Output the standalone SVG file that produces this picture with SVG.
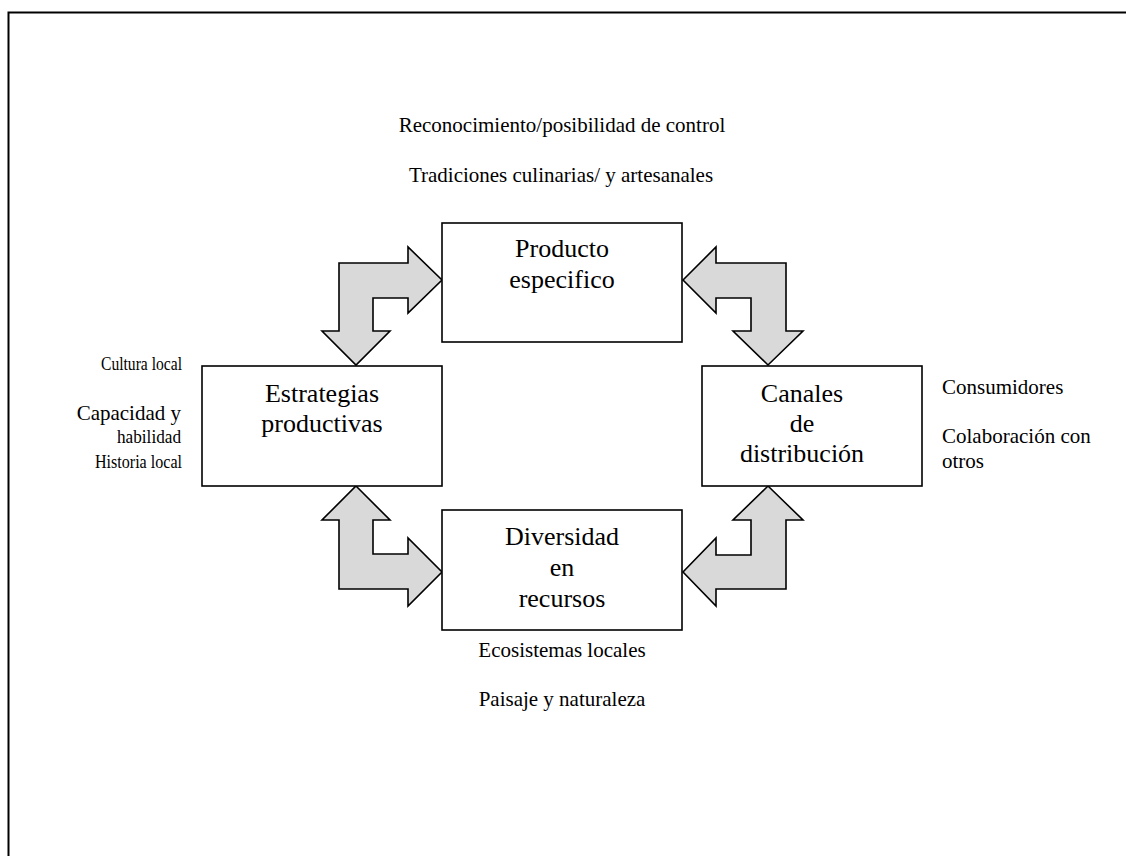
<svg xmlns="http://www.w3.org/2000/svg" width="1126" height="856" viewBox="0 0 1126 856">
<style>
.box{fill:#fff;stroke:#000;stroke-width:1.6}
.arr{fill:#d9d9d9;stroke:#000;stroke-width:1.6;stroke-linejoin:miter}
.big{font-family:"Liberation Serif","Times New Roman",serif;font-size:26px;fill:#000;text-anchor:middle}
.sm{font-family:"Liberation Serif","Times New Roman",serif;font-size:21px;fill:#000}
.s18{font-size:18px}
.mid{text-anchor:middle}
.end{text-anchor:end}
</style>
<rect width="1126" height="856" fill="#fff"/>
<path d="M8.5,856 V12.5 H1126" fill="none" stroke="#000" stroke-width="2"/>
<g id="connectors">
<polygon class="arr" points="339,263 408,263 408,247 442,280 408,313 408,298 373,298 373,331 390,331 356,365 322,331 339,331"/>
<polygon class="arr" points="683,280 716,247 716,263 786,263 786,331 803,331 768,365 733,331 751,331 751,298 716,298 716,313"/>
<polygon class="arr" points="356,486 390,520 373,520 373,554 408,554 408,538 442,572 408,606 408,589 339,589 339,520 322,520"/>
<polygon class="arr" points="768,486 803,520 786,520 786,589 716,589 716,606 683,572 716,538 716,555 751,555 751,520 733,520"/>
</g>
<g id="producto">
<rect class="box" x="442" y="223" width="240" height="119"/>
<text class="big" x="562" y="257">Producto</text>
<text class="big" x="562" y="288">especifico</text>
</g>
<g id="estrategias">
<rect class="box" x="202" y="366" width="240" height="120"/>
<text class="big" x="322" y="402">Estrategias</text>
<text class="big" x="322" y="432">productivas</text>
</g>
<g id="canales">
<rect class="box" x="702" y="366" width="220" height="120"/>
<text class="big" x="802" y="402">Canales</text>
<text class="big" x="802" y="432">de</text>
<text class="big" x="802" y="462">distribución</text>
</g>
<g id="diversidad">
<rect class="box" x="442" y="510" width="240" height="120"/>
<text class="big" x="562" y="545">Diversidad</text>
<text class="big" x="562" y="576">en</text>
<text class="big" x="562" y="607">recursos</text>
</g>
<g id="labels-top">
<text class="sm mid" x="562" y="132">Reconocimiento/posibilidad de control</text>
<text class="sm mid" x="561" y="182">Tradiciones culinarias/ y artesanales</text>
</g>
<g id="labels-left">
<text class="sm s18" x="101" y="370" textLength="81" lengthAdjust="spacingAndGlyphs">Cultura local</text>
<text class="sm end" x="181" y="420">Capacidad y</text>
<text class="sm s18" x="117" y="443" textLength="64" lengthAdjust="spacingAndGlyphs">habilidad</text>
<text class="sm s18" x="95" y="468" textLength="87" lengthAdjust="spacingAndGlyphs">Historia local</text>
</g>
<g id="labels-right">
<text class="sm" x="942" y="394">Consumidores</text>
<text class="sm" x="942" y="443">Colaboración con</text>
<text class="sm" x="942" y="468">otros</text>
</g>
<g id="labels-bottom">
<text class="sm mid" x="562" y="657">Ecosistemas locales</text>
<text class="sm mid" x="562" y="706">Paisaje y naturaleza</text>
</g>
</svg>
